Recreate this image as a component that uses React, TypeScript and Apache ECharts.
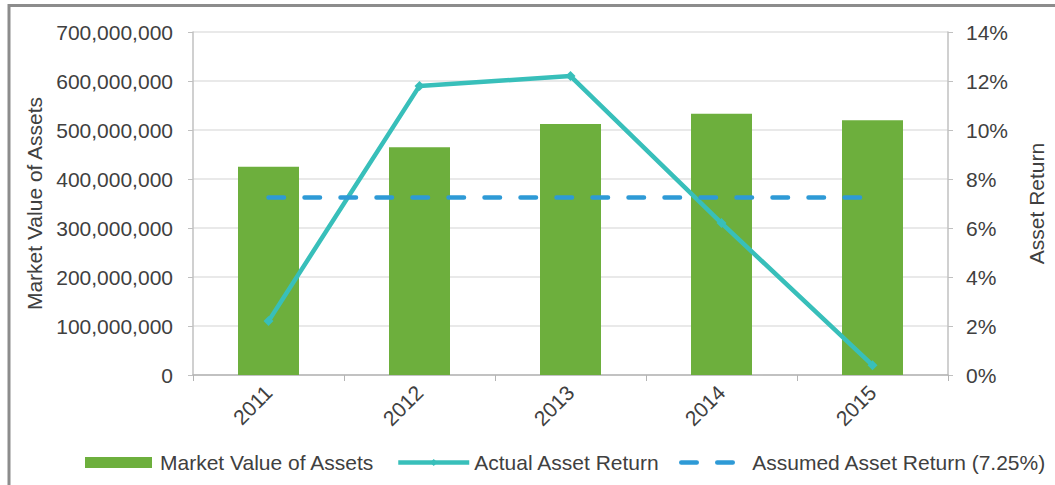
import React, { useEffect, useRef } from "react";
import * as echarts from "echarts";

const years = ["2011", "2012", "2013", "2014", "2015"];
const marketValue = [425000000, 465000000, 512000000, 533000000, 520000000];
const actualReturn = [2.2, 11.8, 12.2, 6.2, 0.4];
const assumedReturn = [7.25, 7.25, 7.25, 7.25, 7.25];
const leftTicks = { min: 0, max: 700000000, interval: 100000000 };
const rightTicks = { min: 0, max: 14, interval: 2 };

const FONT = "'Liberation Sans', Arial, sans-serif";
const TXT = "#404040";
const FS = 21;

export default function App() {
  const ref = useRef<HTMLDivElement>(null);
  useEffect(() => {
    const chart = echarts.init(ref.current!, null, { renderer: "svg" });
    const fmt = (v: number) => v.toLocaleString("en-US");
    chart.setOption({
      animation: false,
      backgroundColor: "#ffffff",
      textStyle: { fontFamily: FONT, color: TXT },
      grid: { left: 193, right: 102, top: 32, bottom: 110 },
      graphic: [
        { type: "line", shape: { x1: 8, y1: 5.5, x2: 1055, y2: 5.5 }, style: { stroke: "#8c8c8c", lineWidth: 3 } },
        { type: "line", shape: { x1: 9, y1: 4, x2: 9, y2: 485 }, style: { stroke: "#8c8c8c", lineWidth: 3 } },
      ],
      xAxis: {
        type: "category",
        data: years,
        boundaryGap: true,
        axisLine: { lineStyle: { color: "#b4b4b4", width: 1.5 } },
        axisTick: { show: true, length: 6, lineStyle: { color: "#b4b4b4" } },
        axisLabel: { rotate: 45, margin: 14, fontSize: FS, color: TXT, fontFamily: FONT },
      },
      yAxis: [
        {
          type: "value",
          ...leftTicks,
          name: "Market Value of Assets",
          nameLocation: "middle",
          nameGap: 147,
          nameTextStyle: { fontSize: FS, color: TXT, fontFamily: FONT },
          axisLine: { show: true, lineStyle: { color: "#c0c0c0", width: 1.5 } },
          axisTick: { show: true, length: 5, lineStyle: { color: "#c0c0c0" } },
          axisLabel: { formatter: fmt, fontSize: FS, margin: 20, color: TXT, fontFamily: FONT },
          splitLine: { lineStyle: { color: "#e2e2e2", width: 1.5 } },
        },
        {
          type: "value",
          ...rightTicks,
          position: "right",
          name: "Asset Return",
          nameLocation: "middle",
          nameGap: 78,
          nameTextStyle: { fontSize: FS, color: TXT, fontFamily: FONT },
          axisLine: { show: true, lineStyle: { color: "#c0c0c0", width: 1.5 } },
          axisTick: { show: true, length: 5, lineStyle: { color: "#c0c0c0" } },
          axisLabel: { formatter: "{value}%", fontSize: FS, margin: 18, color: TXT, fontFamily: FONT },
          splitLine: { show: false },
        },
      ],
      legend: [
        {
          left: 85, top: 452, padding: 0, itemWidth: 67, itemHeight: 11, icon: "rect",
          data: ["Market Value of Assets"],
          textStyle: { fontSize: FS, color: TXT, fontFamily: FONT, padding: [0, 0, 0, 3] },
        },
        {
          left: 396, top: 452, padding: 0, itemWidth: 71, itemHeight: 9,
          data: [{ name: "Actual Asset Return" }],
          lineStyle: { width: 4.5 },
          textStyle: { fontSize: FS, color: TXT, fontFamily: FONT, padding: [0, 0, 0, 0] },
        },
        {
          left: 679, top: 452, padding: 0, itemWidth: 54, itemHeight: 11,
          data: [{ name: "Assumed Asset Return (7.25%)", itemStyle: { opacity: 0 } }],
          lineStyle: { width: 4.5, cap: "round" },
          textStyle: { fontSize: FS, color: TXT, fontFamily: FONT, padding: [0, 0, 0, 12] },
        },
      ],
      series: [
        {
          name: "Market Value of Assets",
          type: "bar",
          data: marketValue,
          barWidth: 61,
          itemStyle: { color: "#6daf3d" },
        },
        {
          name: "Actual Asset Return",
          type: "line",
          yAxisIndex: 1,
          data: actualReturn,
          symbol: "diamond",
          symbolSize: 10,
          itemStyle: { color: "#38bfba" },
          lineStyle: { color: "#38bfba", width: 4.5 },
          z: 3,
        },
        {
          name: "Assumed Asset Return (7.25%)",
          type: "line",
          yAxisIndex: 1,
          data: assumedReturn,
          symbol: "none",
          itemStyle: { color: "#2e9ad6" },
          lineStyle: { color: "#2e9ad6", width: 4.5, type: [15.5, 20.5], cap: "round" },
          z: 4,
        },
      ],
    });
    return () => chart.dispose();
  }, []);
  return (
    <div
      ref={ref}
      style={{ position: "fixed", left: 0, top: 0, width: 1055, height: 485 }}
    />
  );
}
